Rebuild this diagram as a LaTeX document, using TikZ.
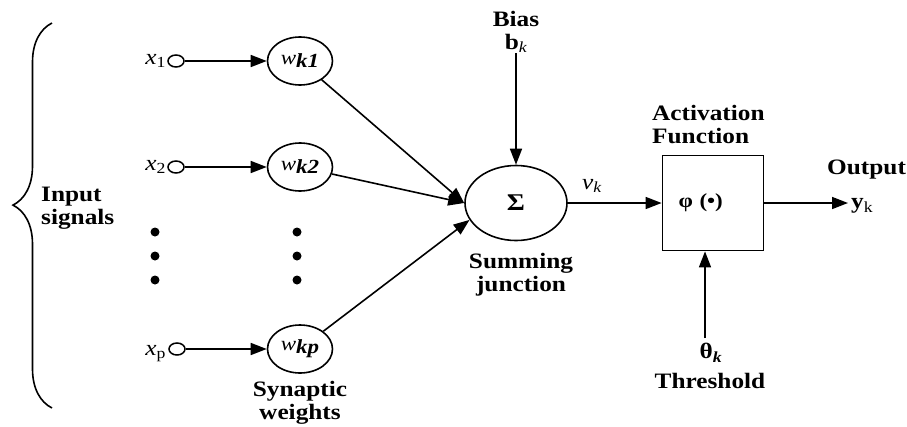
\documentclass[tikz,border=0pt]{standalone}
\usepackage{fontspec}
\setmainfont[FakeStretch=1.15]{Liberation Serif}
\usepackage{tikz}
\usetikzlibrary{
  arrows.meta,
  shapes.geometric,
  positioning,
  calc,
  decorations.pathreplacing
}
\tikzset{
  wnode/.style={
    draw, ellipse, line width=1.6pt, minimum width=65pt, minimum height=48pt,
    inner sep=0pt, font=\fontsize{20}{22}\selectfont
  },
  tap/.style={draw, ellipse, line width=1.5pt, minimum width=16pt, minimum height=12pt, inner sep=0pt},
  sumnode/.style={draw, ellipse, line width=1.6pt, minimum width=102pt, minimum height=75pt, font=\fontsize{24}{26}\selectfont\bfseries},
  actbox/.style={draw, line width=1.8pt, minimum width=101pt, minimum height=95pt, font=\fontsize{20}{22}\selectfont\bfseries},
  caption/.style={font=\fontsize{22}{23}\selectfont\bfseries, align=center, inner sep=0pt},
  var/.style={font=\fontsize{22}{24}\selectfont, inner sep=0pt},
  link/.style={-{Triangle[length=16pt, width=12pt]}, line width=1.6pt},
  wire/.style={line width=1.6pt}
}

\begin{document}
\begin{tikzpicture}[x=1pt, y=-1pt]
  \useasboundingbox (0,0) rectangle (907,426);
  % inputs
  \node[tap] (c1) at (176,61) {};
  \node[tap] (c2) at (176,167) {};
  \node[tap] (cp) at (177,349) {};
  \node[var, left=1pt of c1] (x1) {\textit{x}\textsubscript{1}};
  \node[var, left=1pt of c2] (x2) {\textit{x}\textsubscript{2}};
  \node[var, anchor=north east] (xp) at ($(cp.west)+(-2,-4)$) {\textit{x}\textsubscript{p}};
  % synaptic weights
  \node[wnode] (w1) at (300,61) {\textit{w}\raisebox{-3pt}{\textit{\textbf{k1}}}};
  \node[wnode] (w2) at (300,167) {\textit{w}\raisebox{-3pt}{\textit{\textbf{k2}}}};
  \node[wnode] (wp) at (300,349) {\textit{w}\raisebox{-3pt}{\textit{\textbf{kp}}}};
  \foreach \y in {232,256,280} {
    \fill (155,\y) circle (4.5pt);
    \fill (297,\y) circle (4.5pt);
  }
  \draw[wire, decorate, decoration={brace, amplitude=39pt, aspect=0.527}] (52,408) -- (52,23);
  \node[caption, align=left, anchor=west] (inlbl) at (41,208) {Input\\signals};
  \node[caption] (synlbl) at (300,403) {Synaptic\\weights};
  % summing junction
  \node[sumnode] (sum) at (516,203) {Σ};
  \node[caption] (bias) at (516,32) {Bias\\b\textsubscript{\mdseries\itshape k}};
  \node[caption] (sumlbl) at (521,275) {Summing\\junction};
  \node[var] (vk) at (592,186) {\textit{v}\textsubscript{\textit{k}}};
  % activation
  \node[actbox, text width=85pt, align=left] (act) at (713,203) {\hspace*{8pt}φ (•)};
  \node[caption, align=left, anchor=west] (actlbl) at (652,124) {Activation\\Function};
  \node[caption, anchor=west] (outlbl) at (827,170) {Output};
  \node[caption, anchor=west, inner sep=3pt] (yk) at (848,206) {y\textsubscript{\mdseries k}};
  \node[caption] (theta) at (711,353) {θ\textsubscript{\textit{k}}};
  \node[caption] (thr) at (710,381) {Threshold};
  \coordinate (tk) at (705,338);

  \draw[link] (c1) -- (w1);
  \draw[link] (c2) -- (w2);
  \draw[link] (cp) -- (wp);
  \draw[link] (w1) -- (sum.west);
  \draw[link] (w2) -- (sum.west);
  \draw[link] (wp) -- (sum.200);
  \draw[link] (bias.south) -- (sum.north);
  \draw[link] (sum) -- (act);
  \draw[link] (act.east) -- (act.east -| yk.west);
  \draw[link] (tk) -- (tk |- act.south);
\end{tikzpicture}
\end{document}
